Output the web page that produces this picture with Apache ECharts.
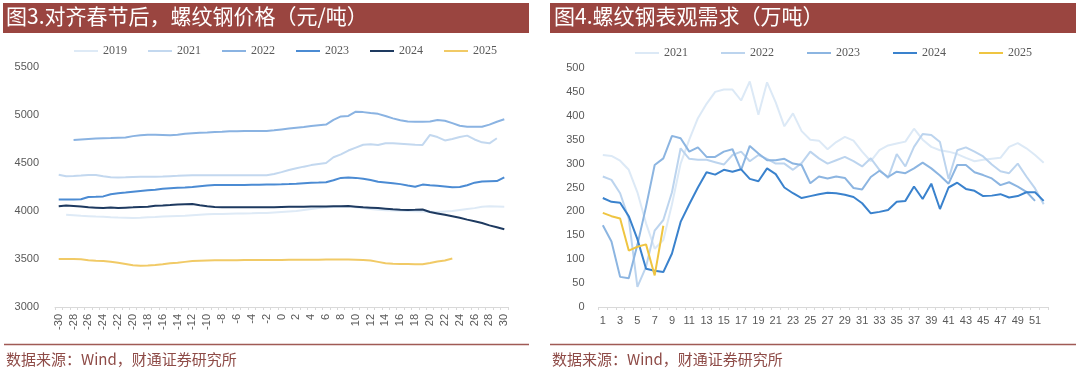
<!DOCTYPE html>
<html>
<head>
<meta charset="utf-8">
<script src="https://cdn.jsdelivr.net/npm/echarts@6/dist/echarts.min.js"></script>
<style>
html,body{margin:0;padding:0;background:#fff;}
#c{width:1080px;height:373px;}
</style>
</head>
<body>
<div id="c"></div>
<script>
// ---------- Left chart: rebar price aligned to Spring Festival (yuan/ton) ----------
var weeksL = ['-30','-29','-28','-27','-26','-25','-24','-23','-22','-21','-20','-19','-18','-17','-16','-15','-14','-13','-12','-11','-10','-9','-8','-7','-6','-5','-4','-3','-2','-1','0','1','2','3','4','5','6','7','8','9','10','11','12','13','14','15','16','17','18','19','20','21','22','23','24','25','26','27','28','29','30'];
var price2019 = [null,3960,3955,3950,3946,3942,3940,3935,3932,3930,3928,3930,3935,3938,3942,3945,3948,3950,3955,3960,3965,3968,3970,3972,3974,3975,3976,3978,3980,3985,
  3990,3995,4000,4010,4020,4030,4038,4042,4045,4048,4040,4030,4020,4012,4008,4005,4002,4000,3998,3995,3993,3990,3995,4000,4010,4020,4030,4045,4050,4048,4045];
var price2021 = [4378,4362,4365,4370,4376,4375,4362,4352,4350,4352,4355,4357,4357,4358,4360,4363,4366,4370,4372,4372,4372,4372,4372,4372,4372,4372,4372,4372,4372,4385,
  4405,4427,4445,4462,4478,4490,4500,4560,4590,4630,4660,4690,4695,4688,4705,4705,4700,4695,4690,4688,4792,4770,4735,4750,4770,4785,4745,4715,4705,4758,null];
var price2022 = [null,null,4740,4745,4750,4755,4758,4760,4763,4765,4780,4790,4795,4795,4792,4788,4795,4805,4810,4815,4818,4822,4825,4830,4832,4833,4833,4833,4833,4840,
  4850,4860,4868,4876,4885,4893,4900,4950,4985,4990,5035,5030,5020,5012,4990,4965,4945,4932,4930,4930,4933,4948,4940,4915,4888,4878,4878,4878,4900,4930,4955];
var price2023 = [4120,4120,4120,4122,4145,4148,4152,4175,4185,4192,4200,4208,4215,4222,4232,4238,4242,4245,4250,4258,4265,4270,4272,4272,4272,4272,4273,4274,4275,4276,
  4278,4281,4285,4290,4293,4296,4300,4320,4345,4348,4345,4335,4322,4305,4298,4290,4280,4265,4253,4275,4268,4262,4255,4248,4250,4268,4295,4308,4310,4312,4350];
var price2024 = [4050,4058,4052,4046,4040,4035,4030,4036,4030,4035,4038,4042,4045,4055,4058,4062,4068,4070,4072,4060,4050,4042,4038,4038,4038,4038,4038,4038,4038,4040,
  4042,4043,4044,4045,4046,4047,4048,4049,4050,4052,4045,4038,4035,4030,4024,4018,4013,4010,4012,4016,3990,3975,3960,3945,3930,3910,3893,3875,3850,3830,3810];
var price2025 = [3500,3500,3500,3498,3488,3482,3478,3472,3460,3448,3435,3430,3432,3438,3445,3455,3462,3470,3478,3482,3485,3486,3487,3488,3488,3489,3489,3490,3490,3490,
  3490,3491,3492,3492,3493,3493,3494,3494,3495,3495,3493,3490,3485,3470,3455,3450,3448,3448,3446,3445,3458,3475,3485,3505,null,null,null,null,null,null,null];

// ---------- Right chart: rebar apparent demand (10k tons) ----------
var weeksR = ['1','2','3','4','5','6','7','8','9','10','11','12','13','14','15','16','17','18','19','20','21','22','23','24','25','26','27','28','29','30','31','32','33','34','35','36','37','38','39','40','41','42','43','44','45','46','47','48','49','50','51','52'];
var dem2021 = [318,316,306,287,240,175,122,140,215,300,350,395,425,450,455,455,432,472,402,470,428,378,405,368,350,348,330,345,356,348,325,305,328,338,342,346,373,350,335,328,325,320,312,305,308,310,312,335,343,332,318,302];
var dem2022 = [273,266,238,185,42,84,160,182,240,332,310,308,308,303,298,318,325,305,318,310,300,300,287,301,325,311,300,307,314,305,294,311,287,270,320,294,335,362,360,345,268,328,334,325,315,298,284,280,300,273,248,215];
var dem2023 = [171,137,63,60,130,210,297,311,358,353,325,334,314,314,325,330,287,337,321,307,307,310,300,297,259,273,269,273,270,249,246,272,285,272,283,280,290,302,290,275,258,297,297,282,276,269,255,261,252,241,222,null];
var dem2024 = [228,220,218,190,142,80,76,73,112,178,215,250,282,277,287,283,288,268,263,290,278,250,238,228,232,236,239,238,235,230,217,196,199,203,220,222,252,226,258,205,250,260,247,243,232,233,236,229,232,240,240,222];
var dem2025 = [197,190,185,118,126,131,66,170];

var yearsL = ['2019','2021','2022','2023','2024','2025'];
var yearsR = ['2021','2022','2023','2024','2025'];

var colorsL = ['#DEEAF6','#C3D8EF','#8AB3E2','#4B8BD3','#1E3A60','#F1CA66'];
var colorsR = ['#DCE9F6','#BCD4EE','#8CB5E1','#3A82CD','#EFC541'];

var seriesL = [price2019, price2021, price2022, price2023, price2024, price2025];
var seriesR = [dem2021, dem2022, dem2023, dem2024, dem2025];

var axisFont = {fontFamily:'Liberation Sans, Arial, sans-serif', fontSize:11, color:'#595959'};

var series = [];
yearsL.forEach(function(y,i){
  series.push({name:'L'+y, type:'line', xAxisIndex:0, yAxisIndex:0, data:seriesL[i],
    symbol:'none', smooth:false, connectNulls:false, color:colorsL[i],
    lineStyle:{width:2, color:colorsL[i]}, z: 2+i});
});
yearsR.forEach(function(y,i){
  series.push({name:'R'+y, type:'line', xAxisIndex:1, yAxisIndex:1, data:seriesR[i],
    symbol:'none', smooth:false, connectNulls:false, color:colorsR[i],
    lineStyle:{width:2, color:colorsR[i]}, z: 2+i});
});

var legendText = {fontFamily:'Liberation Serif, Times New Roman, serif', fontSize:12, color:'#595959'};
function plain(v){ return String(v); }

var option = {
  animation:false,
  backgroundColor:'#ffffff',
  legend:[
    {data:yearsL.map(function(y){return 'L'+y;}), left:74, top:45, padding:0, itemWidth:24, itemHeight:2, itemGap:21,
     icon:'rect', textStyle:legendText, formatter:function(n){return n.slice(1);}, selectedMode:false},
    {data:yearsR.map(function(y){return 'R'+y;}), left:635, top:47, padding:0, itemWidth:24, itemHeight:2, itemGap:33,
     icon:'rect', textStyle:legendText, formatter:function(n){return n.slice(1);}, selectedMode:false}
  ],
  grid:[
    {left:55, top:67, width:453, height:240, containLabel:false},
    {left:598.5, top:68, width:449.5, height:239, containLabel:false}
  ],
  xAxis:[
    {type:'category', gridIndex:0, data:weeksL, boundaryGap:true,
     axisLine:{show:true, lineStyle:{color:'#D9D9D9', width:1}},
     axisTick:{show:true, interval:0, length:3, lineStyle:{color:'#D9D9D9'}},
     axisLabel:Object.assign({interval:1, rotate:90, margin:7}, axisFont),
     splitLine:{show:false}},
    {type:'category', gridIndex:1, data:weeksR, boundaryGap:true,
     axisLine:{show:true, lineStyle:{color:'#D9D9D9', width:1}},
     axisTick:{show:true, interval:0, length:3, lineStyle:{color:'#D9D9D9'}},
     axisLabel:Object.assign({interval:1, margin:8}, axisFont),
     splitLine:{show:false}}
  ],
  yAxis:[
    {type:'value', gridIndex:0, min:3000, max:5500, interval:500,
     axisLine:{show:false}, axisTick:{show:false}, splitLine:{show:false},
     axisLabel:Object.assign({margin:16, formatter:plain}, axisFont)},
    {type:'value', gridIndex:1, min:0, max:500, interval:50,
     axisLine:{show:false}, axisTick:{show:false}, splitLine:{show:false},
     axisLabel:Object.assign({margin:14, formatter:plain}, axisFont)}
  ],
  graphic:[
    {type:'rect', left:3, top:3, shape:{width:526, height:30}, style:{fill:'#9A4540'}, silent:true},
    {type:'text', left:6, top:6, style:{text:'图3.对齐春节后，螺纹钢价格（元/吨）', fill:'#ffffff',
      font:'21px "Noto Sans CJK SC", sans-serif'}, silent:true},
    {type:'rect', left:550, top:3, shape:{width:526, height:30}, style:{fill:'#9A4540'}, silent:true},
    {type:'text', left:554, top:6, style:{text:'图4.螺纹钢表观需求（万吨）', fill:'#ffffff',
      font:'21px "Noto Sans CJK SC", sans-serif'}, silent:true},
    {type:'line', shape:{x1:4, y1:344.5, x2:529, y2:344.5}, style:{stroke:'#A05A55', lineWidth:1.5}, silent:true},
    {type:'line', shape:{x1:550, y1:344.5, x2:1076, y2:344.5}, style:{stroke:'#A05A55', lineWidth:1.5}, silent:true},
    {type:'text', left:6, top:352, style:{text:'数据来源：Wind，财通证券研究所', fill:'#8E4B47',
      font:'15px "Noto Sans CJK SC", sans-serif'}, silent:true},
    {type:'text', left:552, top:352, style:{text:'数据来源：Wind，财通证券研究所', fill:'#8E4B47',
      font:'15px "Noto Sans CJK SC", sans-serif'}, silent:true}
  ],
  series:series
};

var chart = echarts.init(document.getElementById('c'), null, {renderer:'canvas'});
chart.setOption(option);
</script>
</body>
</html>
